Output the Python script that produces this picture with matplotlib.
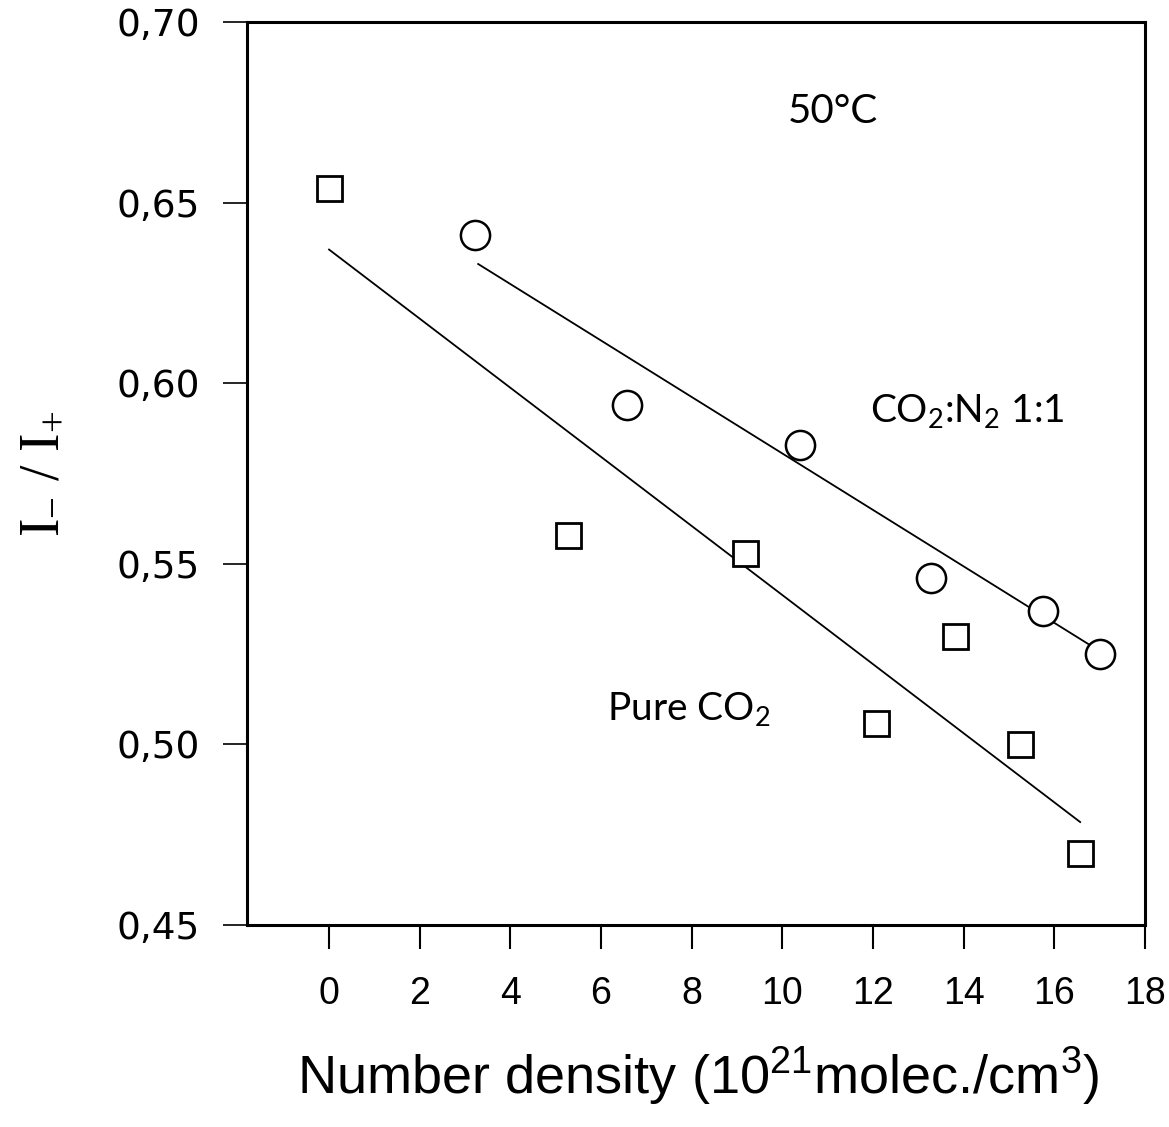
import numpy as np
import matplotlib
matplotlib.use("Agg")
import matplotlib.pyplot as plt

# values (50 C)
pure_x = [0.0, 5.27, 9.18, 12.07, 13.81, 15.24, 16.57]
pure_y = [0.654, 0.558, 0.553, 0.506, 0.530, 0.500, 0.470]

mix_x = [3.22, 6.57, 10.39, 13.28, 15.75, 17.01]
mix_y = [0.641, 0.594, 0.583, 0.546, 0.537, 0.525]

# fitted straight lines (end points as drawn)
pure_fit_x = [0.0, 16.57]
pure_fit_y = [0.637, 0.4785]
mix_fit_x = [3.29, 16.85]
mix_fit_y = [0.633, 0.527]

xticks = [0, 2, 4, 6, 8, 10, 12, 14, 16, 18]
yticks = [0.45, 0.50, 0.55, 0.60, 0.65, 0.70]
ytick_labels = ['0,45', '0,50', '0,55', '0,60', '0,65', '0,70']


def main():
    fig = plt.figure(figsize=(11.69, 11.27), dpi=100)
    ax = fig.add_axes([247/1169, 1 - 925/1127, 898/1169, 903/1127])

    ax.plot(pure_fit_x, pure_fit_y, color='black', lw=1.3)
    ax.plot(mix_fit_x, mix_fit_y, color='black', lw=1.3)

    ax.plot(pure_x, pure_y, ls='none', marker='s', ms=18, mfc='white',
            mec='black', mew=2.0)
    ax.plot(mix_x, mix_y, ls='none', marker='o', ms=21, mfc='white',
            mec='black', mew=1.8)

    ax.set_xlim(-1.81, 18)
    ax.set_ylim(0.45, 0.70)

    ax.set_xticks(xticks)
    ax.set_xticklabels([str(t) for t in xticks], family='Liberation Sans', fontsize=27)
    ax.set_yticks(yticks)
    ax.set_yticklabels(ytick_labels, family='DejaVu Sans', fontsize=27)
    ax.tick_params(axis='x', direction='out', length=17, width=1.5, pad=20)
    ax.tick_params(axis='y', direction='out', length=17, width=1.2, pad=17)

    for sp in ax.spines.values():
        sp.set_linewidth(2.2)

    ax.set_xlabel(r'Number density (10$\mathregular{^{21}}$molec./cm$\mathregular{^3}$)',
                  family='Liberation Sans', fontsize=39)
    ax.xaxis.set_label_coords(0.503, -0.133)
    ax.set_ylabel(r'I$\mathregular{_{-}}$ / I$\mathregular{_{+}}$',
                  family='Liberation Serif', fontsize=40)
    ax.yaxis.set_label_coords(-0.2, 0.5)

    ax.text(10.12, 0.672, '50°C', family='Lato', fontsize=29, va='baseline', ha='left')
    ax.text(11.93, 0.5893, r'CO$\mathregular{_2}$:N$\mathregular{_2}$ 1:1',
            family='Lato', fontsize=28, va='baseline', ha='left')
    ax.text(6.13, 0.5068, r'Pure CO$\mathregular{_2}$',
            family='Lato', fontsize=28, va='baseline', ha='left')

    fig.savefig('out.png', dpi=100)


if __name__ == "__main__":
    main()
